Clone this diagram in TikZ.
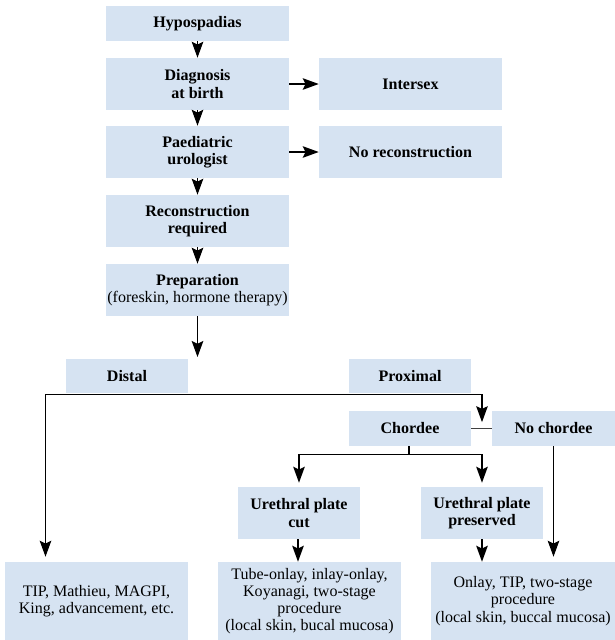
\documentclass[tikz,border=0pt]{standalone}
\usepackage{fontspec}
\newfontfamily\boxfont{Liberation Serif}
\usetikzlibrary{arrows.meta}
\definecolor{boxblue}{RGB}{214,227,242}
\begin{document}
\begin{tikzpicture}[x=0.025cm, y=-0.025cm,
    every node/.style={fill=boxblue, align=center, inner sep=1pt, text=black,
        font=\boxfont\fontsize{11.4}{12.2}\selectfont},
    wide/.style={minimum width=4.575cm},
    narrow/.style={minimum width=3.05cm},
    low/.style={minimum height=0.87cm},
    tall/.style={minimum height=1.3cm},
    deep/.style={minimum height=1.95cm},
    arrow/.style={line width=0.9pt, -{Stealth[length=4mm, width=2.9mm, inset=0.7mm]}},
    link/.style={line width=0.9pt}]

    \useasboundingbox (0,0) rectangle (615,640);

    % Main column
    \node[wide, low]  (hyp)   at (197.5,23.5) {\textbf{Hypospadias}};
    \node[wide, tall] (diag)  at (197.5,84)   {\textbf{Diagnosis}\\\textbf{at birth}};
    \node[wide, tall] (paed)  at (197.5,152)  {\textbf{Paediatric}\\\textbf{urologist}};
    \node[wide, tall] (recon) at (197.5,221)  {\textbf{Reconstruction}\\\textbf{required}};
    \node[wide, tall] (prep)  at (197.5,290)  {\textbf{Preparation}\\(foreskin, hormone therapy)};

    % Side boxes
    \node[wide, tall] (inter) at (410.5,84)  {\textbf{Intersex}};
    \node[wide, tall] (norec) at (410.5,152) {\textbf{No reconstruction}};

    % Distal / proximal row
    \node[narrow, low] (distal) at (127,376) {\textbf{Distal}};
    \node[narrow, low] (prox)   at (410,376) {\textbf{Proximal}};
    \node[narrow, low] (chord)  at (410,428.5) {\textbf{Chordee}};
    \node[minimum width=3.075cm, low] (nochord) at (553.5,428.5) {\textbf{No chordee}};

    % Urethral plate
    \node[narrow, tall] (cut)  at (299,513) {\textbf{Urethral plate}\\\textbf{cut}};
    \node[narrow, tall] (pres) at (482,513) {\textbf{Urethral plate}\\\textbf{preserved}};

    % Procedures
    \node[wide, deep] (tip)   at (96.5,601)  {TIP, Mathieu, MAGPI,\\King, advancement, etc.};
    \node[wide, deep] (tube)  at (309.5,601) {Tube-onlay, inlay-onlay,\\Koyanagi, two-stage\\procedure\\(local skin, bucal mucosa)};
    \node[minimum width=4.6cm, deep] (onlay) at (523,601) {Onlay, TIP, two-stage\\procedure\\(local skin, buccal mucosa)};

    % Split points
    \coordinate (prepend) at (197.5,357);
    \coordinate (lft) at (45.5,394.3);
    \coordinate (rgt) at (482,394.3);
    \coordinate (chordsplit) at (409,454.3);

    % Arrows
    \draw[arrow] (hyp) -- (diag);
    \draw[arrow] (diag) -- (paed);
    \draw[arrow] (paed) -- (recon);
    \draw[arrow] (recon) -- (prep);
    \draw[arrow] (diag) -- (inter);
    \draw[arrow] (paed) -- (norec);
    \draw[arrow] (prep) -- (prepend);

    \draw[line width=1.4pt, black!75] (chord) -- (nochord);
    \draw[arrow, shorten >=5\pgflinewidth] (lft) -- (rgt) -- (rgt |- chord);
    \draw[arrow, shorten >=0.125cm] (lft) -- (lft |- tip.north);

    \draw[link] (chord.south -| chordsplit) -- (chordsplit);
    \draw[arrow, shorten >=0.1cm] (chordsplit) -| (cut.north);
    \draw[arrow, shorten >=0.1cm] (chordsplit) -| (pres.north);
    \draw[arrow, shorten >=0.125cm] (nochord) -- (nochord.south |- onlay.north);

    \draw[arrow] (cut.south -| 298,0) -- (298,0 |- tube.north);
    \draw[arrow] (pres) -- (pres.south |- onlay.north);

\end{tikzpicture}
\end{document}
